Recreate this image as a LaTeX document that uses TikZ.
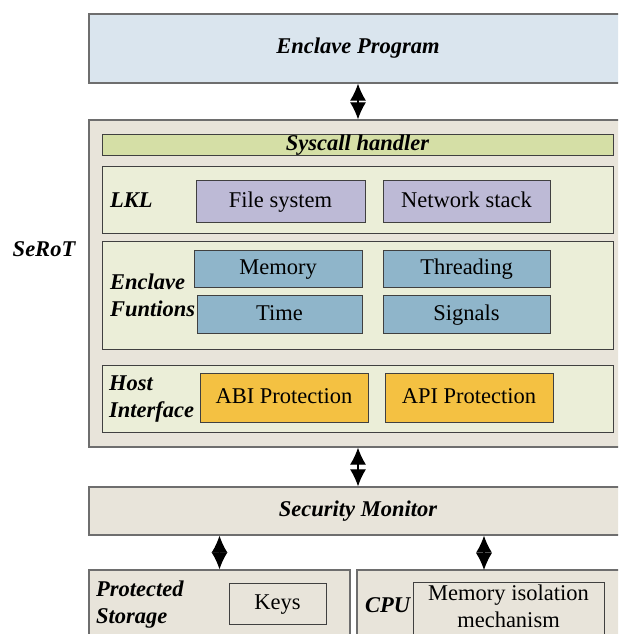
\documentclass[tikz,border=0pt]{standalone}
\usepackage{fontspec}
\setmainfont{Liberation Serif}
\usetikzlibrary{arrows.meta}
\definecolor{progblue}{HTML}{DAE5EE}
\definecolor{rotgray}{HTML}{E8E4DA}
\definecolor{sysgreen}{HTML}{D5DFA6}
\definecolor{paleg}{HTML}{EBEED8}
\definecolor{lavend}{HTML}{BDBAD6}
\definecolor{steelb}{HTML}{8FB5CA}
\definecolor{ambr}{HTML}{F4C142}
\definecolor{edgegray}{HTML}{6E6E6E}
\begin{document}
\begin{tikzpicture}[x=1pt,y=-1pt]
            \tikzstyle{every node}=[inner sep=0pt,font=\fontsize{22.5}{27}\selectfont]
            \tikzstyle{outer}=[draw=edgegray,line width=1.3pt,rectangle]
            \tikzstyle{inner}=[draw=black!75,line width=1pt,rectangle,text height=15pt,text depth=3pt]
            \tikzstyle{ttl}=[font=\fontsize{22.5}{27}\selectfont\bfseries\itshape]
            \tikzstyle{side}=[ttl,anchor=west,align=left]
            \tikzstyle{dbl}=[line width=1.2pt,{Latex[length=17pt,width=16pt]}-{Latex[length=17pt,width=16pt]}]
            \useasboundingbox (0,0) rectangle (618,634);
            \clip (0,0) rectangle (618,634);
            % top and security layers
            \draw (358,48.5) node [outer,fill=progblue,minimum width=538,minimum height=69,ttl] (prog) {Enclave Program};
            \draw (358,283.5) node [outer,fill=rotgray,minimum width=538,minimum height=327] (serot) {};
            \draw (44,249) node [ttl] (serotlbl) {SeRoT};
            \draw (357.5,144.5) node [inner,fill=sysgreen,minimum width=511,minimum height=21,ttl] (sys) {Syscall handler};
            % LKL
            \draw (357.5,199.5) node [inner,fill=paleg,minimum width=511,minimum height=67] (lkl) {};
            \draw (110,200) node [side] (lkllbl) {LKL};
            \draw (280.5,201) node [inner,fill=lavend,minimum width=169,minimum height=42] (fs) {File system};
            \draw (466.5,201) node [inner,fill=lavend,minimum width=167,minimum height=42] (ns) {Network stack};
            % enclave functions
            \draw (357.5,295) node [inner,fill=paleg,minimum width=511,minimum height=108] (ef) {};
            \draw (110,295) node [side] (eflbl) {Enclave\\Funtions};
            \draw (278,268.5) node [inner,fill=steelb,minimum width=168,minimum height=37] (mem) {Memory};
            \draw (466.5,268.5) node [inner,fill=steelb,minimum width=167,minimum height=37] (thr) {Threading};
            \draw (279.5,314) node [inner,fill=steelb,minimum width=165,minimum height=38] (time) {Time};
            \draw (466.5,314) node [inner,fill=steelb,minimum width=167,minimum height=38] (sig) {Signals};
            % host interface
            \draw (357.5,398.5) node [inner,fill=paleg,minimum width=511,minimum height=67] (host) {};
            \draw (109,399) node [side] (hostlbl) {Host\\Interface};
            \draw (284,397.5) node [inner,fill=ambr,minimum width=168,minimum height=49] (abi) {ABI Protection};
            \draw (469,397.5) node [inner,fill=ambr,minimum width=168,minimum height=49] (api) {API Protection};
            % monitor and hardware
            \draw (358,511) node [outer,fill=rotgray,minimum width=538,minimum height=48,ttl] (sm) {Security Monitor};
            \draw (219.5,610) node [outer,fill=rotgray,minimum width=261,minimum height=80] (ps) {};
            \draw (96,605) node [side] (pslbl) {Protected\\Storage};
            \draw (277.5,603.5) node [inner,fill=rotgray,minimum width=97,minimum height=41] (keys) {Keys};
            \draw (492,610) node [outer,fill=rotgray,minimum width=270,minimum height=80] (cpu) {};
            \draw (365,605) node [side] (cpulbl) {CPU};
            \draw (508.5,611) node [draw=black!75,line width=1pt,fill=rotgray,minimum width=191,minimum height=58] (mim) {};
            \draw (508.5,606) node [align=center] (mimtxt) {Memory isolation\\mechanism};
            \coordinate (c4) at (484,570);
            \draw[dbl] (prog.south -| serot.north) -- (serot.north);
            \draw[dbl] (serot.south) -- (sm.north);
            \draw[dbl] (sm.south -| ps.north) -- (ps.north);
            \draw[dbl] (sm.south -| c4) -- (c4);
        \end{tikzpicture}
\end{document}
